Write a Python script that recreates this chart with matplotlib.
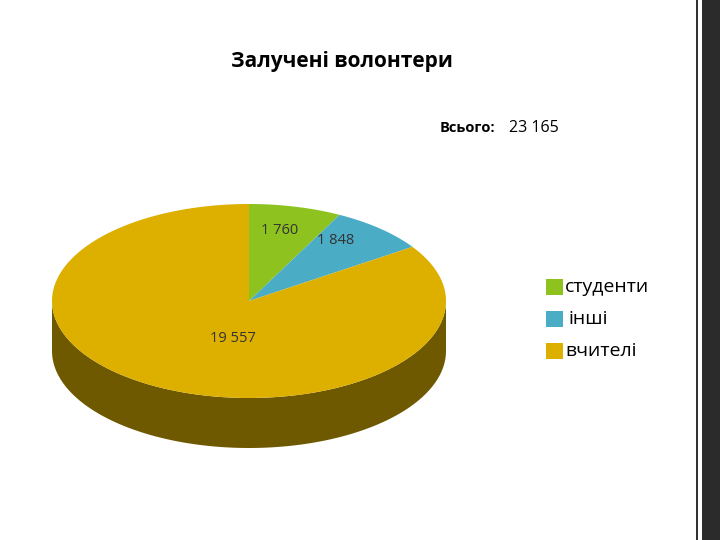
import numpy as np
import matplotlib.pyplot as plt
from matplotlib.patches import Polygon, Rectangle

labels = ["студенти", "інші", "вчителі"]
values = [1760, 1848, 19557]
top_colors = ["#8DC21F", "#4BACC6", "#DDB000"]
side_colors = ["#4E6B10", "#2A5F6E", "#6E5800"]
total_text = "23 165"

plt.rcParams['font.family'] = ['Open Sans', 'DejaVu Sans']
fig = plt.figure(figsize=(7.2, 5.4), dpi=100)
ax = fig.add_axes([0, 0, 1, 1])
ax.set_xlim(0, 720)
ax.set_ylim(540, 0)
ax.axis("off")

cx, cy, rx, ry, depth = 249, 301, 197, 97, 50

def pt(theta):
    # theta measured clockwise from 12 o'clock
    return cx + rx * np.sin(theta), cy - ry * np.cos(theta)

fracs = np.array(values) / sum(values)
edges = np.concatenate([[0], np.cumsum(fracs)]) * 2 * np.pi

# side walls (front half: theta between pi/2 and 3pi/2)
for i in range(len(values)):
    a0, a1 = max(edges[i], np.pi / 2), min(edges[i + 1], 3 * np.pi / 2)
    if a1 <= a0:
        continue
    t = np.linspace(a0, a1, 100)
    xs, ys = pt(t)
    poly = list(zip(xs, ys)) + list(zip(xs[::-1], ys[::-1] + depth))
    ax.add_patch(Polygon(poly, closed=True, fc=side_colors[i], ec="none"))

for i in range(len(values)):
    t = np.linspace(edges[i], edges[i + 1], 200)
    xs, ys = pt(t)
    poly = [(cx, cy)] + list(zip(xs, ys))
    ax.add_patch(Polygon(poly, closed=True, fc=top_colors[i], ec="none"))

label_pos = [(280, 230), (336, 240), (233, 338)]
shown = ["1 760", "1 848", "19 557"]
for (x, y), s in zip(label_pos, shown):
    ax.text(x, y, s, fontsize=10.5, color="#333333", ha="center", va="center")

ax.text(342, 62, "Залучені волонтери", fontsize=15, fontweight="bold", ha="center", va="center")
ax.text(440, 128, "Всього:", fontsize=10.5, fontweight="bold", ha="left", va="center")
ax.text(509, 128, total_text, fontsize=11.5, ha="left", va="center")

for i, lab in enumerate(labels):
    y = 287 + i * 32
    ax.add_patch(Rectangle((546, y - 8), 17, 16, fc=top_colors[i], ec="none"))
    ax.text(565 if i != 1 else 569, y, lab, fontsize=14, ha="left", va="center")

# decorative border on the right
ax.add_patch(Rectangle((696, 0), 2, 540, fc="#333333", ec="none"))
ax.add_patch(Rectangle((702, 0), 18, 540, fc="#2b2b2b", ec="none"))

fig.savefig("out.png", dpi=100)
